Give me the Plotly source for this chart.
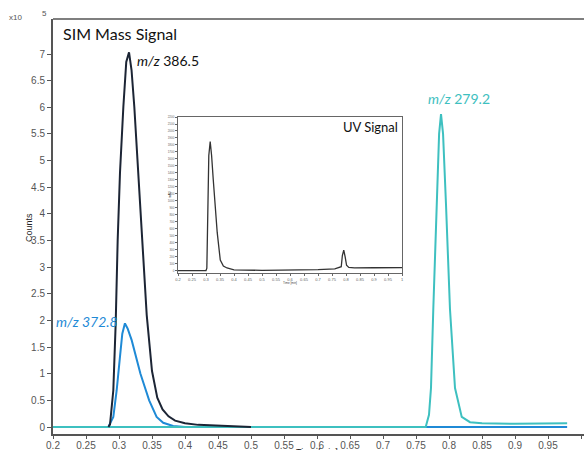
import plotly.graph_objects as go

# ---- SIM mass signal data (time in min, counts in x10^5) ----
t_3865 = [0.284, 0.2864, 0.2914, 0.295, 0.298, 0.3015, 0.3066, 0.311, 0.3152, 0.319, 0.3232,
          0.3293, 0.3344, 0.342, 0.350, 0.358, 0.366, 0.375, 0.385, 0.400, 0.420, 0.450, 0.500]
v_3865 = [0.0, 0.05, 0.69, 1.95, 3.51, 4.77, 6.01, 6.85, 7.03, 6.70, 6.01,
          4.77, 3.51, 2.10, 1.05, 0.55, 0.33, 0.20, 0.12, 0.07, 0.04, 0.02, 0.0]

t_3728 = [0.200, 0.2838, 0.2914, 0.2965, 0.3015, 0.305, 0.309, 0.313, 0.3192, 0.326, 0.3325,
          0.3457, 0.357, 0.367, 0.382, 0.400, 0.600, 0.800, 0.979]
v_3728 = [0.0, 0.0, 0.19, 0.69, 1.32, 1.75, 1.945, 1.85, 1.63, 1.30, 1.00,
          0.50, 0.19, 0.08, 0.02, 0.0, 0.0, 0.0, 0.0]

t_2792 = [0.200, 0.500, 0.7647, 0.7697, 0.7727, 0.7762, 0.7814, 0.785, 0.7879, 0.791, 0.7955,
          0.8015, 0.8091, 0.8193, 0.8318, 0.850, 0.900, 0.950, 0.979]
v_2792 = [0.0, 0.0, 0.0, 0.23, 0.73, 2.21, 4.16, 5.50, 5.87, 5.50, 4.16,
          2.21, 0.73, 0.19, 0.09, 0.07, 0.06, 0.07, 0.07]

# ---- UV inset data (time in min, mAU) ----
t_uv = [0.200, 0.300, 0.303, 0.306, 0.310, 0.315, 0.320, 0.326, 0.333, 0.340, 0.351, 0.362,
        0.375, 0.400, 0.500, 0.600, 0.700, 0.760, 0.783, 0.787, 0.792, 0.797, 0.802, 0.810,
        0.830, 0.900, 1.000]
v_uv = [5, 5, 40, 900, 1650, 1847, 1650, 1300, 959, 550, 155, 70,
        42, 15, 8, 10, 18, 28, 60, 220, 296, 200, 80, 50,
        42, 45, 48]

y_ticks = [0, 0.5, 1, 1.5, 2, 2.5, 3, 3.5, 4, 4.5, 5, 5.5, 6, 6.5, 7]
y_labels = ["0", "0.5", "1", "1.5", "2", "2.5", "3", "3.5", "4", "4.5", "5", "5.5", "6", "6.5", "7"]
x_ticks = [0.2, 0.25, 0.3, 0.35, 0.4, 0.45, 0.5, 0.55, 0.6, 0.65, 0.7, 0.75, 0.8, 0.85, 0.9, 0.95, 1.0]
x_labels = ["0.2", "0.25", "0.3", "0.35", "0.4", "0.45", "0.5", "0.55", "0.6", "0.65", "0.7",
            "0.75", "0.8", "0.85", "0.9", "0.95", "1"]
uv_yticks = list(range(0, 2201, 100))
uv_ylabels = [str(v) for v in uv_yticks]

C_BLACK = "#1c2535"
C_BLUE = "#1f8ad6"
C_TEAL = "#3ec0c0"
TICK_FONT = "Liberation Sans"

W, H = 584, 450
L, T, B = 53, 19, 16
PW = W - L
PH = H - T - B

def px(x):
    return (x - L) / PW

def py(y):
    return (H - B - y) / PH

fig = go.Figure()
fig.add_trace(go.Scatter(x=t_3728, y=v_3728, mode="lines", line=dict(color=C_BLUE, width=2),
                         showlegend=False))
fig.add_trace(go.Scatter(x=t_2792, y=v_2792, mode="lines", line=dict(color=C_TEAL, width=2),
                         showlegend=False))
fig.add_trace(go.Scatter(x=t_3865, y=v_3865, mode="lines", line=dict(color=C_BLACK, width=2),
                         showlegend=False))
fig.add_trace(go.Scatter(x=t_uv, y=v_uv, mode="lines", line=dict(color="#333333", width=1.3),
                         xaxis="x2", yaxis="y2", showlegend=False))

x_per_px = 0.05 / 33.0
y_per_px = 7.0 / (427 - 54)
x_max = 0.2 + PW * x_per_px
y_min = -(H - B - 427) * y_per_px
y_max = (427 - T) * y_per_px

fig.update_layout(
    width=W, height=H,
    margin=dict(l=L, r=0, t=T, b=B, autoexpand=False),
    paper_bgcolor="white", plot_bgcolor="white",
    font=dict(family=TICK_FONT, color="#555555", size=10),
    xaxis=dict(range=[0.2, x_max], tickvals=x_ticks, ticktext=x_labels, showgrid=False,
               zeroline=False, showline=True, linecolor="#555555", linewidth=1.5,
               ticks="outside", ticklen=3, tickcolor="#555555", ticklabelstandoff=-2,
               tickfont=dict(family=TICK_FONT, size=10, color="#555555")),
    yaxis=dict(range=[y_min, y_max], tickvals=y_ticks, ticktext=y_labels, showgrid=False,
               zeroline=False, showline=True, linecolor="#555555", linewidth=2,
               ticks="outside", ticklen=4, tickcolor="#555555",
               tickfont=dict(family=TICK_FONT, size=10, color="#555555")),
    xaxis2=dict(domain=[px(178), px(402)], anchor="y2", range=[0.2, 1.0],
                tickvals=x_ticks, ticktext=x_labels, showgrid=False, zeroline=False,
                showline=True, mirror=True, linecolor="#666666", linewidth=1,
                ticks="outside", ticklen=2, tickcolor="#666666",
                tickfont=dict(family=TICK_FONT, size=4, color="#666666")),
    yaxis2=dict(domain=[py(273), py(117)], anchor="x2", range=[-30, 2200],
                tickvals=uv_yticks, ticktext=uv_ylabels, showgrid=False, zeroline=False,
                showline=True, mirror=True, linecolor="#666666", linewidth=1,
                ticks="outside", ticklen=2, tickcolor="#666666",
                tickfont=dict(family=TICK_FONT, size=3, color="#666666")),
)

fig.add_shape(type="line", xref="paper", yref="paper", x0=0, x1=1, y0=1, y1=1,
              line=dict(color="#555555", width=1.5))

ann_font = "Lato, Open Sans, sans-serif"
anns = [
    dict(text="SIM Mass Signal", x=px(61), y=py(33), size=16, color="#111111"),
    dict(text="<i>m/z</i> 386.5", x=px(135), y=py(60), size=14, color="#111111"),
    dict(text="<i>m/z</i> 279.2", x=px(426), y=py(98), size=14, color=C_TEAL),
    dict(text="<i>m/z 372.8</i>", x=px(54), y=py(321), size=14, color=C_BLUE),
    dict(text="UV Signal", x=px(341), y=py(127), size=13, color="#111111"),
]
for a in anns:
    fig.add_annotation(text=a["text"], x=a["x"], y=a["y"], xref="paper", yref="paper",
                       xanchor="left", yanchor="middle", showarrow=False,
                       font=dict(family=ann_font, size=a["size"], color=a["color"]))

fig.add_annotation(text="x10", x=px(15), y=py(17), xref="paper", yref="paper", showarrow=False,
                   xanchor="center", yanchor="middle", font=dict(family=TICK_FONT, size=8, color="#555555"))
fig.add_annotation(text="5", x=px(44), y=py(13), xref="paper", yref="paper", showarrow=False,
                   xanchor="center", yanchor="middle", font=dict(family=TICK_FONT, size=8, color="#555555"))
fig.add_annotation(text="Counts", x=px(29), y=py(228), xref="paper", yref="paper", showarrow=False,
                   textangle=-90, xanchor="center", yanchor="middle",
                   font=dict(family=TICK_FONT, size=9, color="#222222"))
fig.add_annotation(text="Time [min]", x=px(317), y=py(445), xref="paper", yref="paper",
                   showarrow=False, xanchor="center", yanchor="top",
                   font=dict(family=TICK_FONT, size=9, color="#222222"))
fig.add_annotation(text="mAU", x=px(170), y=py(195), xref="paper", yref="paper", showarrow=False,
                   textangle=-90, xanchor="center", yanchor="middle",
                   font=dict(family=TICK_FONT, size=3, color="#444444"))
fig.add_annotation(text="Time [min]", x=px(290), y=py(283), xref="paper", yref="paper",
                   showarrow=False, xanchor="center", yanchor="middle",
                   font=dict(family=TICK_FONT, size=3, color="#444444"))

fig.write_html("out.html")
